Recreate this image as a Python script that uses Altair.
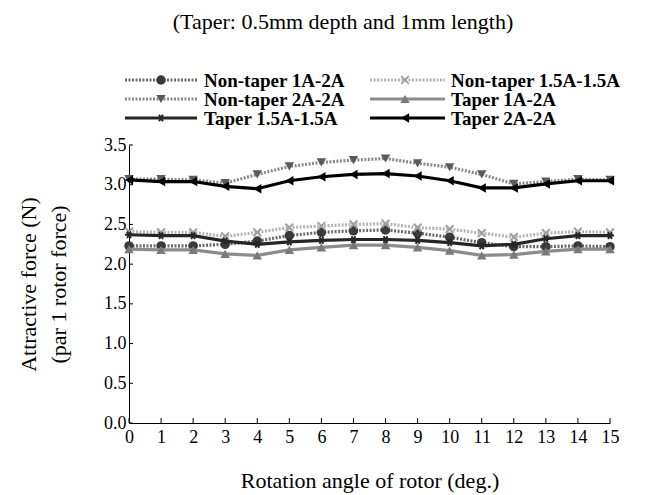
import altair as alt
import pandas as pd

angles = list(range(16))
nt_1a2a = [2.23, 2.23, 2.23, 2.25, 2.29, 2.36, 2.40, 2.42, 2.43, 2.39, 2.34, 2.27, 2.22, 2.22, 2.23, 2.22]
nt_15a15a = [2.41, 2.40, 2.40, 2.35, 2.40, 2.46, 2.48, 2.50, 2.51, 2.46, 2.44, 2.39, 2.34, 2.39, 2.41, 2.40]
nt_2a2a = [3.07, 3.07, 3.06, 3.02, 3.13, 3.23, 3.28, 3.31, 3.33, 3.27, 3.22, 3.13, 3.01, 3.04, 3.07, 3.06]
t_1a2a = [2.19, 2.18, 2.18, 2.13, 2.11, 2.18, 2.21, 2.24, 2.24, 2.21, 2.17, 2.11, 2.12, 2.16, 2.19, 2.19]
t_15a15a = [2.37, 2.36, 2.36, 2.29, 2.25, 2.28, 2.30, 2.31, 2.31, 2.30, 2.27, 2.23, 2.25, 2.32, 2.36, 2.36]
t_2a2a = [3.06, 3.04, 3.04, 2.98, 2.95, 3.05, 3.10, 3.13, 3.14, 3.11, 3.05, 2.96, 2.96, 3.01, 3.05, 3.05]

x_ticks = list(range(16))
y_ticks = [0.0, 0.5, 1.0, 1.5, 2.0, 2.5, 3.0, 3.5]

names = ["Non-taper 1A-2A", "Non-taper 1.5A-1.5A", "Non-taper 2A-2A",
         "Taper 1A-2A", "Taper 1.5A-1.5A", "Taper 2A-2A"]
values = [nt_1a2a, nt_15a15a, nt_2a2a, t_1a2a, t_15a15a, t_2a2a]

XPATH = "M-1,-1L1,1M-1,1L1,-1"
STAR = "M-1,0L1,0M-0.5,-0.87L0.5,0.87M-0.5,0.87L0.5,-0.87"

styles = {
    "Non-taper 1A-2A": dict(line="#6a6a6a", dash=[2, 1.5], mcol="#3a3a3a", shape="circle", filled=True, size=90),
    "Non-taper 1.5A-1.5A": dict(line="#b4b4b4", dash=[2, 1.5], mcol="#a0a0a0", shape=XPATH, filled=False, size=60),
    "Non-taper 2A-2A": dict(line="#8a8a8a", dash=[2, 1.5], mcol="#5a5a5a", shape="triangle-down", filled=True, size=90),
    "Taper 1A-2A": dict(line="#8c8c8c", dash=None, mcol="#7a7a7a", shape="triangle-up", filled=True, size=90),
    "Taper 1.5A-1.5A": dict(line="#262626", dash=None, mcol="#262626", shape=STAR, filled=False, size=60),
    "Taper 2A-2A": dict(line="#000000", dash=None, mcol="#000000", shape="triangle-left", filled=True, size=90),
}

W, H = 481, 278
FONT = "Liberation Serif"

xs = alt.Scale(domain=[0, 15], nice=False, zero=False)
ys = alt.Scale(domain=[0, 3.5], nice=False)

XAXIS = alt.Axis(values=x_ticks, tickSize=0, labelPadding=5, title="Rotation angle of rotor (deg.)",
                 titlePadding=24, format="d", labelOverlap=False, labelFlush=False)
YAXIS = alt.Axis(values=y_ticks, tickSize=0, labelPadding=3, format=".1f",
                 labelOverlap=False, labelFlush=False,
                 title=["Attractive force (N)", "(par 1 rotor force)"], titlePadding=33,
                 titleLineHeight=30)

layers = []
tick_df = pd.DataFrame({"t": x_ticks})
ytick_df = pd.DataFrame({"v": y_ticks})

layers.append(alt.Chart(tick_df).mark_rule(color="black", strokeWidth=1).encode(
    x=alt.X("t:Q", scale=xs, axis=XAXIS),
    y=alt.value(H), y2=alt.value(H - 5),
))
layers.append(alt.Chart(ytick_df).mark_rule(color="black", strokeWidth=1).encode(
    y=alt.Y("v:Q", scale=ys, axis=YAXIS),
    x=alt.value(0), x2=alt.value(4),
))

for name, vals in zip(names, values):
    st = styles[name]
    df = pd.DataFrame({"angle": angles, "force": vals})
    lk = dict(color=st["line"], strokeWidth=3.2)
    if st["dash"]:
        lk["strokeDash"] = st["dash"]
    enc = dict(x=alt.X("angle:Q", scale=xs, axis=XAXIS), y=alt.Y("force:Q", scale=ys, axis=YAXIS))
    line = alt.Chart(df).mark_line(**lk).encode(**enc)
    if st["filled"]:
        pt = alt.Chart(df).mark_point(shape=st["shape"], filled=True, color=st["mcol"],
                                      size=st["size"], opacity=1)
    else:
        pt = alt.Chart(df).mark_point(shape=st["shape"], filled=False, color=st["mcol"],
                                      size=st["size"], strokeWidth=2, opacity=1)
    pt = pt.encode(**enc)
    layers += [line, pt]

# legend
one = pd.DataFrame({"a": [0]})
col_x = [(-4, 68, 32, 75), (241, 316, 276, 322)]
row_y = [-65, -46, -27]
for i, name in enumerate(names):
    st = styles[name]
    x0, x1, xm, xt = col_x[i % 2]
    yy = row_y[i // 2]
    rk = dict(color=st["line"], strokeWidth=3.2)
    if st["dash"]:
        rk["strokeDash"] = st["dash"]
    layers.append(alt.Chart(one).mark_rule(**rk).encode(
        x=alt.value(x0), x2=alt.value(x1), y=alt.value(yy)))
    if st["filled"]:
        pk = alt.Chart(one).mark_point(shape=st["shape"], filled=True, color=st["mcol"],
                                       size=st["size"], opacity=1)
    else:
        pk = alt.Chart(one).mark_point(shape=st["shape"], filled=False, color=st["mcol"],
                                       size=st["size"], strokeWidth=2, opacity=1)
    layers.append(pk.encode(x=alt.value(xm), y=alt.value(yy)))
    layers.append(alt.Chart(one).mark_text(align="left", baseline="middle", font=FONT,
                                           fontSize=19, fontWeight="bold", color="black").encode(
        x=alt.value(xt), y=alt.value(yy + 1), text=alt.value(name)))

title = alt.Chart(one).mark_text(align="center", baseline="middle", font=FONT, fontSize=22,
                                 color="black").encode(
    x=alt.value(214), y=alt.value(-123), text=alt.value("(Taper: 0.5mm depth and 1mm length)"))
layers.append(title)

chart = alt.layer(*layers).properties(
    width=W, height=H,
    padding={"left": 121, "top": 137, "right": 30, "bottom": 72},
    autosize=alt.AutoSizeParams(type="none"),
).configure_view(stroke=None).configure_axis(
    grid=False, domainColor="black", domainWidth=1, labelFont=FONT, labelFontSize=18,
    labelColor="black", titleFont=FONT, titleFontSize=22, titleFontWeight="normal",
    titleColor="black",
)

chart.save("out.html", embed_options={"renderer": "svg", "actions": False})
